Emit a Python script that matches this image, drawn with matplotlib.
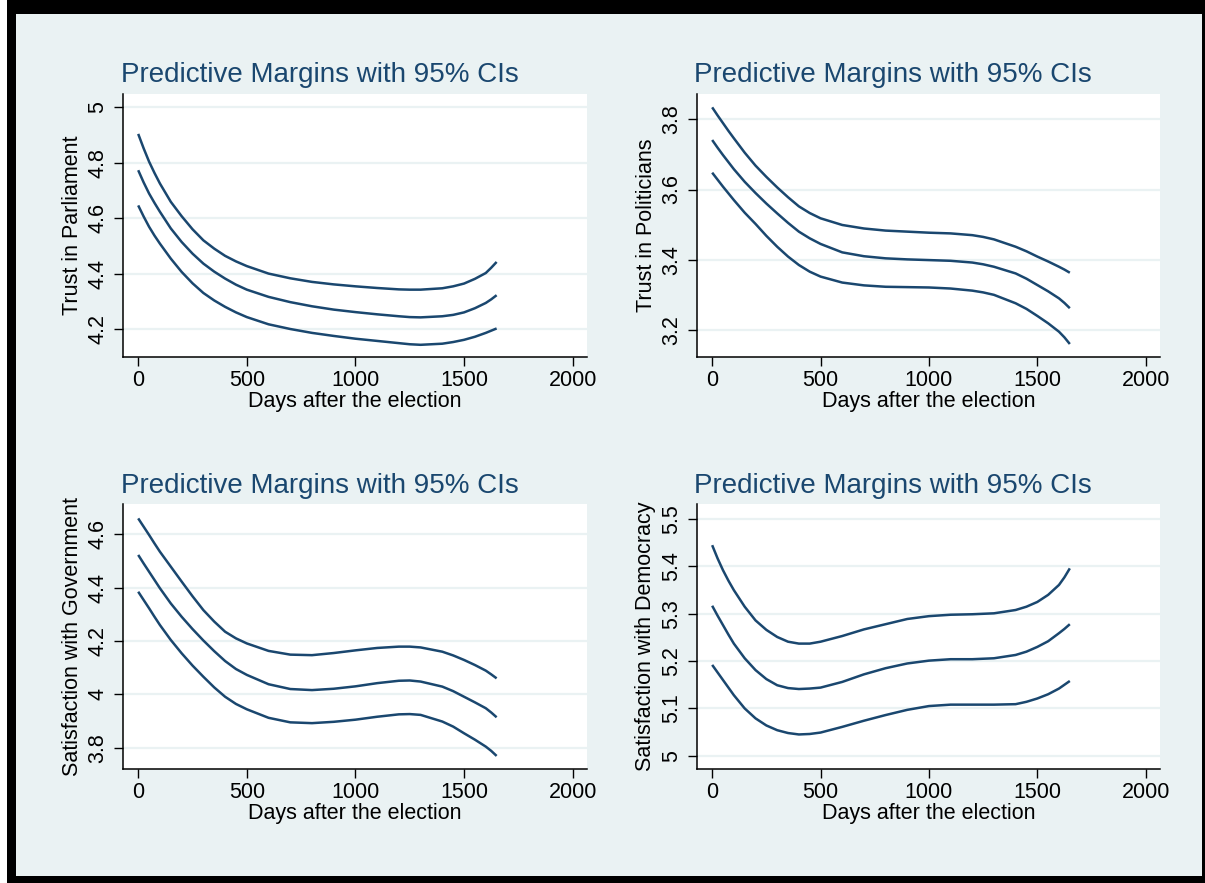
import matplotlib
matplotlib.use('Agg')
import matplotlib.pyplot as plt
from matplotlib.patches import Rectangle

plt.rcParams['font.family'] = ['Liberation Sans', 'DejaVu Sans']

W, H = 1205, 883

# days after the election at which the curves were read
days = [0, 25, 50, 75, 100, 150, 200, 250, 300, 350, 400, 450, 500, 600, 700, 800, 900,
        1000, 1100, 1200, 1250, 1300, 1400, 1450, 1500, 1550, 1600, 1625, 1650]

parl_upper = [4.904, 4.852, 4.804, 4.763, 4.725, 4.659, 4.607, 4.560, 4.520, 4.490, 4.464,
              4.444, 4.427, 4.400, 4.383, 4.370, 4.361, 4.354, 4.348, 4.343, 4.342, 4.342,
              4.347, 4.354, 4.364, 4.381, 4.402, 4.421, 4.442]
parl_mid = [4.773, 4.729, 4.689, 4.655, 4.623, 4.563, 4.514, 4.472, 4.436, 4.407, 4.382,
            4.360, 4.342, 4.316, 4.297, 4.282, 4.270, 4.261, 4.253, 4.246, 4.243, 4.242,
            4.246, 4.251, 4.260, 4.275, 4.294, 4.307, 4.322]
parl_lower = [4.646, 4.606, 4.569, 4.537, 4.508, 4.454, 4.406, 4.365, 4.330, 4.303, 4.280,
              4.260, 4.243, 4.217, 4.200, 4.186, 4.175, 4.165, 4.157, 4.149, 4.145, 4.143,
              4.147, 4.153, 4.161, 4.172, 4.186, 4.194, 4.202]

pol_upper = [3.834, 3.811, 3.789, 3.767, 3.746, 3.705, 3.668, 3.636, 3.606, 3.578, 3.552,
             3.533, 3.518, 3.499, 3.489, 3.483, 3.480, 3.477, 3.475, 3.470, 3.465, 3.458,
             3.437, 3.424, 3.409, 3.395, 3.380, 3.372, 3.363]
pol_mid = [3.741, 3.719, 3.698, 3.678, 3.658, 3.622, 3.590, 3.560, 3.532, 3.505, 3.480,
           3.461, 3.445, 3.421, 3.410, 3.404, 3.401, 3.399, 3.397, 3.392, 3.387, 3.380,
           3.361, 3.346, 3.328, 3.310, 3.290, 3.277, 3.262]
pol_lower = [3.648, 3.628, 3.608, 3.589, 3.570, 3.534, 3.502, 3.468, 3.437, 3.409, 3.385,
             3.366, 3.352, 3.335, 3.327, 3.323, 3.322, 3.321, 3.318, 3.312, 3.307, 3.300,
             3.276, 3.260, 3.240, 3.219, 3.195, 3.179, 3.160]

gov_upper = [4.660, 4.629, 4.598, 4.566, 4.535, 4.479, 4.423, 4.368, 4.316, 4.273, 4.235,
             4.210, 4.191, 4.163, 4.149, 4.147, 4.155, 4.165, 4.174, 4.179, 4.179, 4.176,
             4.160, 4.146, 4.129, 4.110, 4.089, 4.075, 4.060]
gov_mid = [4.523, 4.491, 4.460, 4.429, 4.398, 4.341, 4.291, 4.245, 4.202, 4.162, 4.125,
           4.095, 4.073, 4.038, 4.020, 4.016, 4.021, 4.030, 4.042, 4.051, 4.052, 4.048,
           4.029, 4.012, 3.991, 3.970, 3.948, 3.932, 3.914]
gov_lower = [4.385, 4.354, 4.323, 4.291, 4.260, 4.204, 4.154, 4.108, 4.066, 4.026, 3.991,
             3.964, 3.944, 3.912, 3.895, 3.892, 3.897, 3.905, 3.916, 3.925, 3.926, 3.923,
             3.898, 3.879, 3.854, 3.830, 3.804, 3.788, 3.769]

dem_upper = [5.445, 5.417, 5.392, 5.370, 5.350, 5.315, 5.286, 5.266, 5.251, 5.241, 5.237,
             5.237, 5.241, 5.253, 5.267, 5.278, 5.289, 5.295, 5.298, 5.299, 5.300, 5.301,
             5.308, 5.315, 5.325, 5.340, 5.361, 5.377, 5.396]
dem_mid = [5.317, 5.296, 5.276, 5.256, 5.237, 5.206, 5.181, 5.162, 5.149, 5.143, 5.141,
           5.142, 5.144, 5.156, 5.172, 5.185, 5.195, 5.201, 5.204, 5.204, 5.205, 5.206,
           5.213, 5.220, 5.230, 5.242, 5.259, 5.268, 5.278]
dem_lower = [5.192, 5.176, 5.160, 5.144, 5.128, 5.100, 5.079, 5.064, 5.054, 5.048, 5.045,
             5.046, 5.049, 5.061, 5.074, 5.086, 5.097, 5.105, 5.108, 5.108, 5.108, 5.108,
             5.109, 5.114, 5.121, 5.130, 5.142, 5.150, 5.158]

x_ticks = [0, 500, 1000, 1500, 2000]

panels = [
    dict(series=[parl_upper, parl_mid, parl_lower], ylabel='Trust in Parliament',
         yticks=[4.2, 4.4, 4.6, 4.8, 5.0], ylabels=['4.2', '4.4', '4.6', '4.8', '5'],
         ylim=(4.099, 5.048), box=(123, 94, 587, 357), title_xy=(121, 82), ylab_x=73),
    dict(series=[pol_upper, pol_mid, pol_lower], ylabel='Trust in Politicians',
         yticks=[3.2, 3.4, 3.6, 3.8], ylabels=['3.2', '3.4', '3.6', '3.8'],
         ylim=(3.123, 3.872), box=(697, 94, 1160, 357), title_xy=(694, 82), ylab_x=646),
    dict(series=[gov_upper, gov_mid, gov_lower], ylabel='Satisfaction with Government',
         yticks=[3.8, 4.0, 4.2, 4.4, 4.6], ylabels=['3.8', '4', '4.2', '4.4', '4.6'],
         ylim=(3.720, 4.714), box=(123, 504, 587, 769), title_xy=(121, 493), ylab_x=73),
    dict(series=[dem_upper, dem_mid, dem_lower], ylabel='Satisfaction with Democracy',
         yticks=[5.0, 5.1, 5.2, 5.3, 5.4, 5.5], ylabels=['5', '5.1', '5.2', '5.3', '5.4', '5.5'],
         ylim=(4.972, 5.532), box=(697, 504, 1160, 769), title_xy=(694, 493), ylab_x=646),
]

bg = '#EAF2F3'
navy = '#1A476F'

fig = plt.figure(figsize=(W / 100, H / 100), dpi=100, facecolor='white')

# black frame and light background of the graph
fig.patches.append(Rectangle((7 / W, 0), 1 - 7 / W, 1, transform=fig.transFigure,
                             facecolor='black', edgecolor='none', zorder=-2))
fig.patches.append(Rectangle((16 / W, 1 - 876 / H), (1202 - 16) / W, (876 - 14) / H,
                             transform=fig.transFigure, facecolor=bg, edgecolor='none', zorder=-1))

for p in panels:
    x0, y0, x1, y1 = p['box']
    ax = fig.add_axes([x0 / W, 1 - y1 / H, (x1 - x0) / W, (y1 - y0) / H])
    ax.set_facecolor('white')
    for s in p['series']:
        ax.plot(days, s, color=navy, lw=1.8, solid_joinstyle='round', solid_capstyle='butt')
    ax.set_xlim(-70, 2066)
    ax.set_ylim(*p['ylim'])
    ax.set_xticks(x_ticks)
    ax.set_xticklabels([str(t) for t in x_ticks])
    ax.set_yticks(p['yticks'])
    ax.set_yticklabels(p['ylabels'], rotation=90, va='center')
    ax.yaxis.grid(True, color=bg, lw=1.6)
    ax.set_axisbelow(True)
    for side in ['top', 'right']:
        ax.spines[side].set_visible(False)
    for side in ['left', 'bottom']:
        ax.spines[side].set_color('black')
        ax.spines[side].set_linewidth(1.1)
    ax.tick_params(axis='both', length=6.5, width=1.0, labelsize=15.5, color='black')
    ax.tick_params(axis='x', pad=3)
    ax.tick_params(axis='y', pad=4)
    ax.set_xlabel('Days after the election', fontsize=15.5, labelpad=0)
    fig.text(p['ylab_x'] / W, 1 - (y0 + y1) / 2 / H, p['ylabel'], rotation=90,
             ha='center', va='center', fontsize=15.5)
    tx, ty = p['title_xy']
    fig.text(tx / W, 1 - ty / H, 'Predictive Margins with 95% CIs', color=navy,
             fontsize=20, ha='left', va='baseline')

fig.savefig('out.png', dpi=100, facecolor=fig.get_facecolor())
